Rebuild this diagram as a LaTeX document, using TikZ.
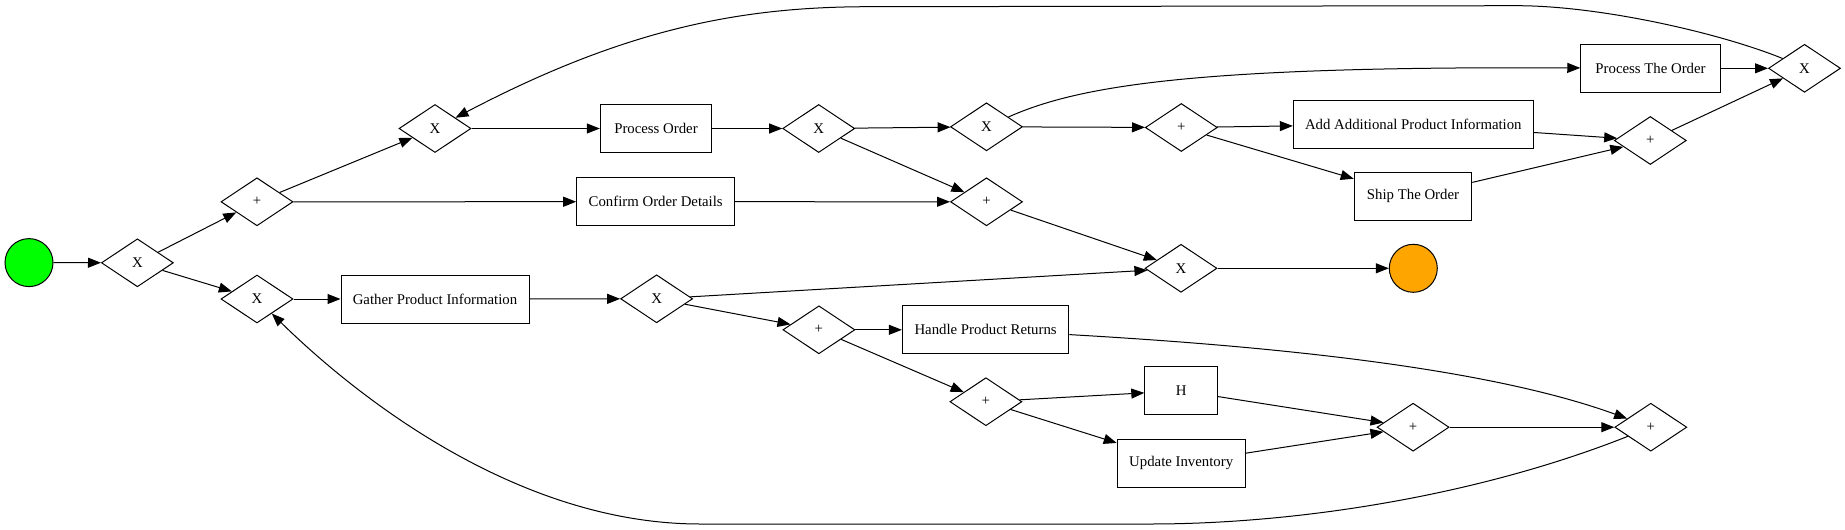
\documentclass[tikz,border=0pt]{standalone}
\usepackage{fontspec}
\setmainfont{Liberation Serif}
\usetikzlibrary{shapes.geometric,arrows.meta,calc}
\begin{document}
\begin{tikzpicture}[x=1pt,y=-1pt,
  every node/.style={font=\fontsize{14.8}{17.8}\selectfont},
  gw/.style={diamond,draw,line width=1pt,minimum width=72pt,minimum height=48pt,inner sep=0pt},
  task/.style={rectangle,draw,line width=1pt,minimum height=48pt,inner sep=0pt},
  ev/.style={circle,draw,line width=1pt,minimum size=48pt,inner sep=0pt},
  flow/.style={draw,line width=1pt,-{Triangle[length=13pt,width=10pt]}}]
\useasboundingbox (0,0) rectangle (1845,530);
% events
\node[ev,fill={rgb,255:red,0;green,255;blue,0}] (start) at (29,262.6) {};
\node[ev,fill={rgb,255:red,255;green,165;blue,0}] (end) at (1413.3,268.3) {};
% gateways
\node[gw] (X1) at (137.4,262.8) {X};
\node[gw] (P1) at (257,201.8) {+};
\node[gw] (X2) at (257,299) {X};
\node[gw] (X0) at (435,128.5) {X};
\node[gw] (X3) at (818.7,128.5) {X};
\node[gw] (X5) at (656.6,298.8) {X};
\node[gw] (X4) at (986.5,126.8) {X};
\node[gw] (P2) at (986.5,201.8) {+};
\node[gw] (P5) at (818.9,329.8) {+};
\node[gw] (P6) at (985.9,401.7) {+};
\node[gw] (P3) at (1181.3,127.5) {+};
\node[gw] (X7) at (1181,268.3) {X};
\node[gw] (P7) at (1413.1,427.2) {+};
\node[gw] (P4) at (1650.3,140.5) {+};
\node[gw] (P8) at (1650.8,427.2) {+};
\node[gw] (X6) at (1804.5,68.3) {X};
% tasks
\node[task,minimum width=158pt] (confirm) at (655.7,201.7) {Confirm Order Details};
\node[task,minimum width=188pt] (gather) at (435,299) {Gather Product Information};
\node[task,minimum width=111.4pt] (po) at (656,128.5) {Process Order};
\node[task,minimum width=166.5pt] (handle) at (985.6,329.8) {Handle Product Returns};
\node[task,minimum width=72.8pt] (H) at (1181.2,390.8) {H};
\node[task,minimum width=128pt] (update) at (1181.2,463.2) {Update Inventory};
\node[task,minimum width=240pt] (add) at (1413.3,124.2) {Add Additional Product Information};
\node[task,minimum width=117.6pt] (ship) at (1413,196.3) {Ship The Order};
\node[task,minimum width=139.5pt] (pto) at (1650.5,68.3) {Process The Order};
% flows
\draw[flow] (start) -- (X1);
\draw[flow] (X1) -- (P1);
\draw[flow] (X1) -- (X2);
\draw[flow] (P1) -- (X0);
\draw[flow] (P1) -- (confirm);
\draw[flow] (X2) -- (gather);
\draw[flow] (X0) -- (po);
\draw[flow] (po) -- (X3);
\draw[flow] (X3) -- (X4);
\draw[flow] (X3) -- (P2);
\draw[flow] (confirm) -- (P2);
\draw[flow] (X4) .. controls (1080,85) and (1200,66) .. (pto);
\draw[flow] (X4) -- (P3);
\draw[flow] (P3) -- (add);
\draw[flow] (P3) -- (ship);
\draw[flow] (add) -- (P4);
\draw[flow] (ship) -- (P4);
\draw[flow] (P4) -- (X6);
\draw[flow] (pto) -- (X6);
\coordinate (X6out) at ($(X6.west)!0.4!(X6.north)$);
\draw[flow] (X6out) .. controls (1720,33) and (1600,5.7) .. (1516.7,5.7) -- (870,6.7) .. controls (745,6.7) and (628.8,26.8) .. (X0);
\draw[flow] (P2) -- (X7);
\draw[flow] (gather) -- (X5);
\draw[flow] (X5) -- (X7);
\draw[flow] (X5) -- (P5);
\draw[flow] (P5) -- (handle);
\draw[flow] (P5) -- (P6);
\draw[flow] (handle) .. controls (1250,345) and (1480,365) .. (P8);
\draw[flow] (P6) -- (H);
\draw[flow] (P6) -- (update);
\draw[flow] (H) -- (P7);
\draw[flow] (update) -- (P7);
\draw[flow] (P7) -- (P8);
\draw[flow] (P8) .. controls (1480,495) and (1300,524) .. (1150,524) -- (700,524) .. controls (520,524) and (360,400) .. (X2);
\draw[flow] (X7) -- (end);
\end{tikzpicture}
\end{document}
